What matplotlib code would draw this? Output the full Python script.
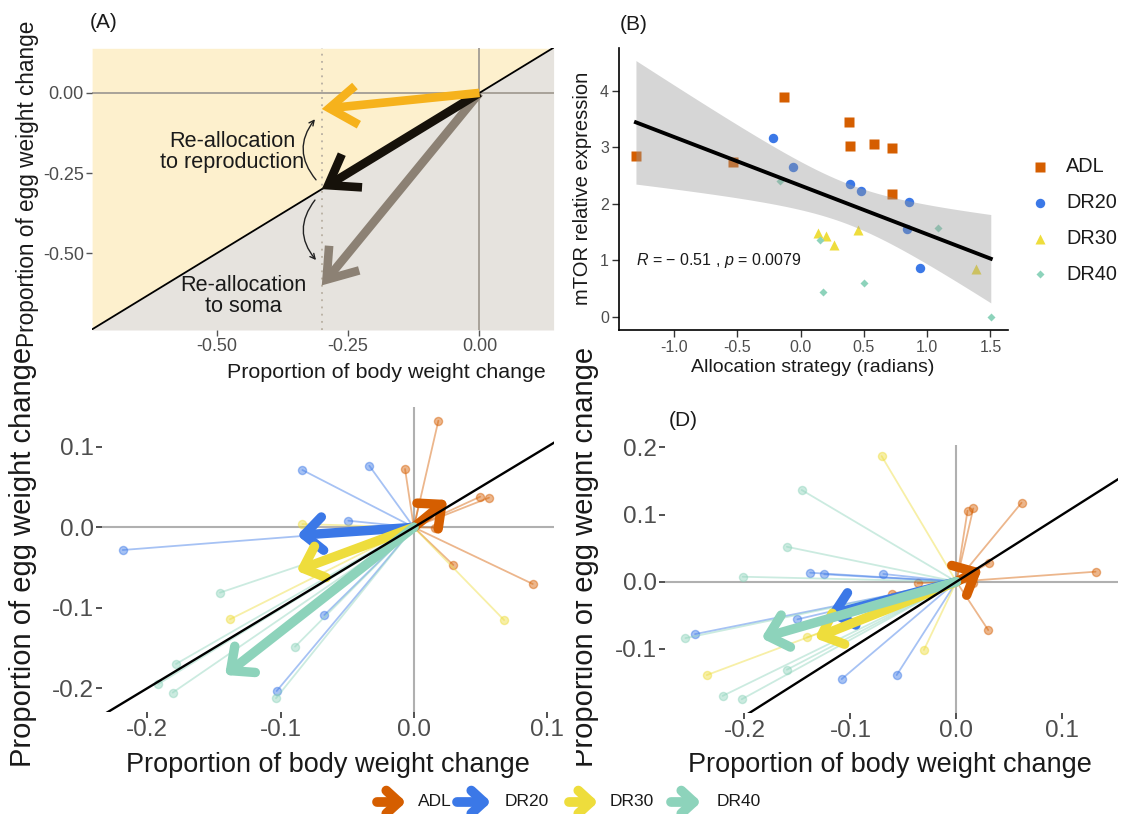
import numpy as np
import matplotlib
matplotlib.use('Agg')
import matplotlib.pyplot as plt
from matplotlib.patches import FancyArrowPatch, ArrowStyle
from matplotlib.transforms import Bbox

plt.rcParams['font.family'] = ['Liberation Sans', 'DejaVu Sans']
plt.rcParams['axes.unicode_minus'] = False
plt.rcParams['mathtext.fontset'] = 'custom'
plt.rcParams['mathtext.it'] = 'Liberation Sans:italic'
plt.rcParams['mathtext.rm'] = 'Liberation Sans'

# ---------------- data ----------------
groups = ['ADL', 'DR20', 'DR30', 'DR40']
group_colors = ['#D55E00', '#3B78E7', '#EEDD3C', '#8DD3BB']

# Panel A: conceptual arrows
a_tip_x = [-0.30, -0.30, -0.30]
a_tip_y = [-0.60, -0.30, -0.05]
a_colors = ['#8C8174', '#16110A', '#F6B21C']

# Panel B: allocation strategy vs mTOR expression
b_adl_x = [-1.30, -0.534, -0.131, 0.383, 0.394, 0.583, 0.720, 0.726]
b_adl_y = [2.85, 2.74, 3.89, 3.44, 3.03, 3.06, 2.99, 2.18]
b_dr20_x = [-0.22, -0.063, 0.389, 0.477, 0.86, 0.843, 0.94]
b_dr20_y = [3.16, 2.66, 2.35, 2.22, 2.04, 1.55, 0.87]
b_dr30_x = [0.137, 0.20, 0.263, 0.454, 1.383]
b_dr30_y = [1.49, 1.43, 1.28, 1.53, 0.85]
b_dr40_x = [-0.163, 0.154, 0.177, 0.50, 1.09, 1.503]
b_dr40_y = [2.40, 1.36, 0.45, 0.60, 1.58, 0.0]
b_xticks = [-1.0, -0.5, 0.0, 0.5, 1.0, 1.5]
b_yticks = [0, 1, 2, 3, 4]

# Panel C: individual vectors and group mean vectors
c_adl_x = [0.0184, -0.0066, 0.0041, 0.0497, 0.0564, 0.0159, 0.0296, 0.0892]
c_adl_y = [0.1324, 0.0724, 0.0306, 0.0380, 0.0368, -0.0005, -0.0468, -0.0704]
c_dr20_x = [-0.0836, -0.0334, -0.0491, -0.2184, -0.0671, -0.1029]
c_dr20_y = [0.0712, 0.0765, 0.0082, -0.0282, -0.1090, -0.2034]
c_dr30_x = [-0.0836, -0.1379, 0.0677]
c_dr30_y = [0.0040, -0.1143, -0.1152]
c_dr40_x = [-0.1454, -0.0891, -0.1784, -0.1917, -0.1809, -0.1034]
c_dr40_y = [-0.0812, -0.1483, -0.1698, -0.1947, -0.2054, -0.2124]
c_mean_x = [0.025, -0.0875, -0.088, -0.1416]
c_mean_y = [0.034, -0.010, -0.054, -0.1835]

# Panel D
d_adl_x = [0.0105, 0.0159, 0.0615, 0.1313, 0.0310, 0.0300, 0.0153, -0.0366, -0.0611]
d_adl_y = [0.1057, 0.1090, 0.1176, 0.0149, 0.0280, -0.0720, -0.0024, -0.0024, -0.0180]
d_dr20_x = [-0.138, -0.1247, -0.069, -0.150, -0.1083, -0.0564, -0.2467]
d_dr20_y = [0.0134, 0.011, 0.0115, -0.056, -0.145, -0.139, -0.078]
d_dr30_x = [-0.0706, -0.0307, -0.141, -0.2356]
d_dr30_y = [0.187, -0.1016, -0.083, -0.139]
d_dr40_x = [-0.146, -0.160, -0.2017, -0.160, -0.2206, -0.2026, -0.2557]
d_dr40_y = [0.1365, 0.052, 0.0074, -0.131, -0.170, -0.175, -0.084]
d_mean_x = [0.024, -0.122, -0.1335, -0.184]
d_mean_y = [0.019, -0.050, -0.084, -0.084]

# ---------------- figure ----------------
W, H = 1127, 814
fig = plt.figure(figsize=(W / 100, H / 100), dpi=100)


def add_ax(l, t, r, b):
    return fig.add_axes([l / W, 1 - b / H, (r - l) / W, (b - t) / H])


TICKLAB = '#4D4D4D'

# ---------- Panel A ----------
axA = add_ax(92.1, 48.3, 553.6, 330)
xlA = (-0.737, 0.141)
ylA = (-0.739, 0.139)
xx = np.linspace(xlA[0], xlA[1], 300)
axA.fill_between(xx, xx, ylA[1], color='#FDF0CD', lw=0, zorder=0)
axA.fill_between(xx, ylA[0], xx, color='#E6E3DE', lw=0, zorder=0)
axA.axhline(0, color='#A8A299', lw=1.4, zorder=1)
axA.axvline(0, color='#A8A299', lw=1.4, zorder=1)
axA.axvline(-0.30, color='#B8AFA2', lw=1.3, ls=(0, (1, 3)), zorder=1)
axA.plot(xx, xx, color='black', lw=1.3, zorder=2)
for tx, ty, c in zip(a_tip_x, a_tip_y, a_colors):
    p = FancyArrowPatch((0, 0), (tx, ty),
                        arrowstyle=ArrowStyle('->', head_length=0.5, head_width=0.35),
                        mutation_scale=40, lw=6.2, color=c, shrinkA=0, shrinkB=0,
                        capstyle='butt', joinstyle='miter', zorder=3)
    axA.add_patch(p)
axA.add_patch(FancyArrowPatch((-0.311, -0.271), (-0.313, -0.082),
                              connectionstyle='arc3,rad=-0.4', arrowstyle='->',
                              mutation_scale=9, lw=1.0, color='#222222',
                              shrinkA=0, shrinkB=0, zorder=4))
axA.add_patch(FancyArrowPatch((-0.313, -0.334), (-0.311, -0.521),
                              connectionstyle='arc3,rad=0.4', arrowstyle='->',
                              mutation_scale=9, lw=1.0, color='#222222',
                              shrinkA=0, shrinkB=0, zorder=4))
axA.text(-0.471, -0.1855, 'Re-allocation\nto reproduction', ha='center', va='center',
         fontsize=15.6, linespacing=1.0, color='#1A1A1A', zorder=5)
axA.text(-0.450, -0.633, 'Re-allocation\nto soma', ha='center', va='center',
         fontsize=15.6, linespacing=1.0, color='#1A1A1A', zorder=5)
axA.set_xlim(xlA)
axA.set_ylim(ylA)
axA.set_xticks([-0.5, -0.25, 0.0])
axA.set_xticklabels(['-0.50', '-0.25', '0.00'])
axA.set_yticks([-0.5, -0.25, 0.0])
axA.set_yticklabels(['-0.50', '-0.25', '0.00'])
for s in axA.spines.values():
    s.set_visible(False)
axA.tick_params(labelsize=13, labelcolor=TICKLAB, color='#555555', length=4.5,
                width=1.0, pad=1.5)

# ---------- Panel B ----------
axB = add_ax(618.6, 48, 1008.5, 330)
markers = ['s', 'o', '^', 'D']
msizes = [6.5, 6.8, 7.5, 4.2]
bx = [b_adl_x, b_dr20_x, b_dr30_x, b_dr40_x]
by = [b_adl_y, b_dr20_y, b_dr30_y, b_dr40_y]
for gx, gy, m, ms, c in zip(bx, by, markers, msizes, group_colors):
    axB.plot(gx, gy, ls='none', marker=m, ms=ms, color=c, mec='none', zorder=2)
x_all = np.concatenate([np.array(v) for v in bx])
y_all = np.concatenate([np.array(v) for v in by])
n = len(x_all)
xm, ym = x_all.mean(), y_all.mean()
sxx = np.sum((x_all - xm) ** 2)
slope = np.sum((x_all - xm) * (y_all - ym)) / sxx
icpt = ym - slope * xm
resid = y_all - (icpt + slope * x_all)
s_err = np.sqrt(np.sum(resid ** 2) / (n - 2))
t_crit = 2.0639  # t(0.975, df=24)
xs = np.linspace(x_all.min(), x_all.max(), 100)
fit = icpt + slope * xs
se = s_err * np.sqrt(1 / n + (xs - xm) ** 2 / sxx)
axB.fill_between(xs, fit - t_crit * se, fit + t_crit * se, color='#999999',
                 alpha=0.4, lw=0, zorder=3)
axB.plot(xs, fit, color='black', lw=2.8, zorder=4)
axB.text(-1.30, 1.0, r'$R$ = − 0.51 , $p$ = 0.0079', ha='left', va='center',
         fontsize=11.5, color='#1A1A1A', zorder=5)
axB.set_xlim(-1.437, 1.643)
axB.set_ylim(-0.23, 4.755)
axB.set_xticks(b_xticks)
axB.set_xticklabels(['%.1f' % v for v in b_xticks])
axB.set_yticks(b_yticks)
axB.set_yticklabels([str(v) for v in b_yticks])
axB.spines['top'].set_visible(False)
axB.spines['right'].set_visible(False)
axB.spines['left'].set_linewidth(1.2)
axB.spines['bottom'].set_linewidth(1.2)
axB.tick_params(labelsize=11.5, labelcolor=TICKLAB, color='#333333', length=5,
                width=1.0, pad=2)


# ---------- Panels C & D ----------
def vector_panel(ax, pts, means, xl, yl):
    ax.axhline(0, color='#B0B0B0', lw=1.5, zorder=1)
    ax.axvline(0, color='#B0B0B0', lw=1.5, zorder=1)
    for (gx, gy), c in zip(pts, group_colors):
        for x, y in zip(gx, gy):
            ax.plot([0, x], [0, y], color=c, alpha=0.45, lw=1.3, zorder=2,
                    solid_capstyle='round')
        ax.scatter(gx, gy, s=34, facecolor=c, edgecolor=c, alpha=0.45, lw=1.0,
                   zorder=2)
    for mx, my, c in zip(means[0], means[1], group_colors):
        p = FancyArrowPatch((0, 0), (mx, my),
                            arrowstyle=ArrowStyle('->', head_length=0.55, head_width=0.5),
                            mutation_scale=24, lw=6.8, color=c, shrinkA=0, shrinkB=0,
                            capstyle='round', joinstyle='round', zorder=4)
        ax.add_patch(p)
    ax.plot([-1, 1], [-1, 1], color='black', lw=1.7, zorder=6)
    ax.set_xlim(xl)
    ax.set_ylim(yl)
    ax.set_xticks([-0.2, -0.1, 0.0, 0.1])
    ax.set_xticklabels(['-0.2', '-0.1', '0.0', '0.1'])
    ax.set_yticks([v for v in [-0.2, -0.1, 0.0, 0.1, 0.2] if yl[0] <= v <= yl[1]])
    ax.set_yticklabels(['%.1f' % v for v in ax.get_yticks()])
    for s in ax.spines.values():
        s.set_visible(False)
    ax.tick_params(labelsize=17.5, labelcolor=TICKLAB, color='#333333', length=4,
                   width=1.2, pad=1.5)


axC = add_ax(101.9, 407.4, 553.8, 711.6)
vector_panel(axC, [(c_adl_x, c_adl_y), (c_dr20_x, c_dr20_y), (c_dr30_x, c_dr30_y),
                   (c_dr40_x, c_dr40_y)], (c_mean_x, c_mean_y),
             (-0.234, 0.105), (-0.229, 0.149))

axD = add_ax(664.5, 445, 1118, 712.7)
vector_panel(axD, [(d_adl_x, d_adl_y), (d_dr20_x, d_dr20_y), (d_dr30_x, d_dr30_y),
                   (d_dr40_x, d_dr40_y)], (d_mean_x, d_mean_y),
             (-0.2755, 0.1525), (-0.195, 0.2035))

# ---------- overlay for labels / legends ----------
ov = fig.add_axes([0, 0, 1, 1], zorder=20)
ov.set_xlim(0, W)
ov.set_ylim(H, 0)
ov.axis('off')

TXT = '#1A1A1A'
ov.text(104, 23, '(A)', ha='center', va='center', fontsize=15, color=TXT)
ov.text(634, 24, '(B)', ha='center', va='center', fontsize=15, color=TXT)
ov.text(683, 421, '(D)', ha='center', va='center', fontsize=15, color=TXT)

ov.text(386.6, 372, 'Proportion of body weight change', ha='center', va='center',
        fontsize=15.4, color=TXT)
ov.text(28, 184, 'Proportion of egg weight change', ha='center', va='center',
        rotation=90, fontsize=16.3, color=TXT)
ov.text(813, 368, 'Allocation strategy (radians)', ha='center', va='center',
        fontsize=14, color=TXT)
ov.text(582, 188, 'mTOR relative expression', ha='center', va='center',
        rotation=90, fontsize=14.5, color=TXT)
ov.text(328, 765, 'Proportion of body weight change', ha='center', va='center',
        fontsize=19.5, color=TXT)
ov.text(23, 557, 'Proportion of egg weight change', ha='center', va='center',
        rotation=90, fontsize=21, color=TXT)
ov.text(890, 765, 'Proportion of body weight change', ha='center', va='center',
        fontsize=19.5, color=TXT)
tD = ov.text(585, 557, 'Proportion of egg weight change', ha='center', va='center',
             rotation=90, fontsize=21, color=TXT)
tD.set_clip_box(Bbox.from_extents(576, 0, W, H))
tD.set_clip_on(True)

# legend of panel B
leg_y = [166.5, 203, 239, 274]
for gy_, m, ms, c, g in zip(leg_y, markers, msizes, group_colors, groups):
    ov.plot([1040], [gy_], ls='none', marker=m, ms=ms, color=c, mec='none')
    ov.text(1066, gy_, g, ha='left', va='center', fontsize=14.3, color=TXT)

# bottom legend (arrows)
arr_x0 = [373, 453, 565, 667]
arr_x1 = [410, 495, 602, 705]
lab_x = [418, 505, 610, 717]
for x0, x1, lx, c, g in zip(arr_x0, arr_x1, lab_x, group_colors, groups):
    ov.add_patch(FancyArrowPatch((x0 + 4, 802), (x1 - 4, 802),
                                 arrowstyle=ArrowStyle('->', head_length=0.6, head_width=0.55),
                                 mutation_scale=15, lw=7, color=c, shrinkA=0, shrinkB=0,
                                 capstyle='round', joinstyle='round'))
    ov.text(lx, 802, g, ha='left', va='center', fontsize=12.5, color=TXT)

fig.savefig('out.png', dpi=100)
